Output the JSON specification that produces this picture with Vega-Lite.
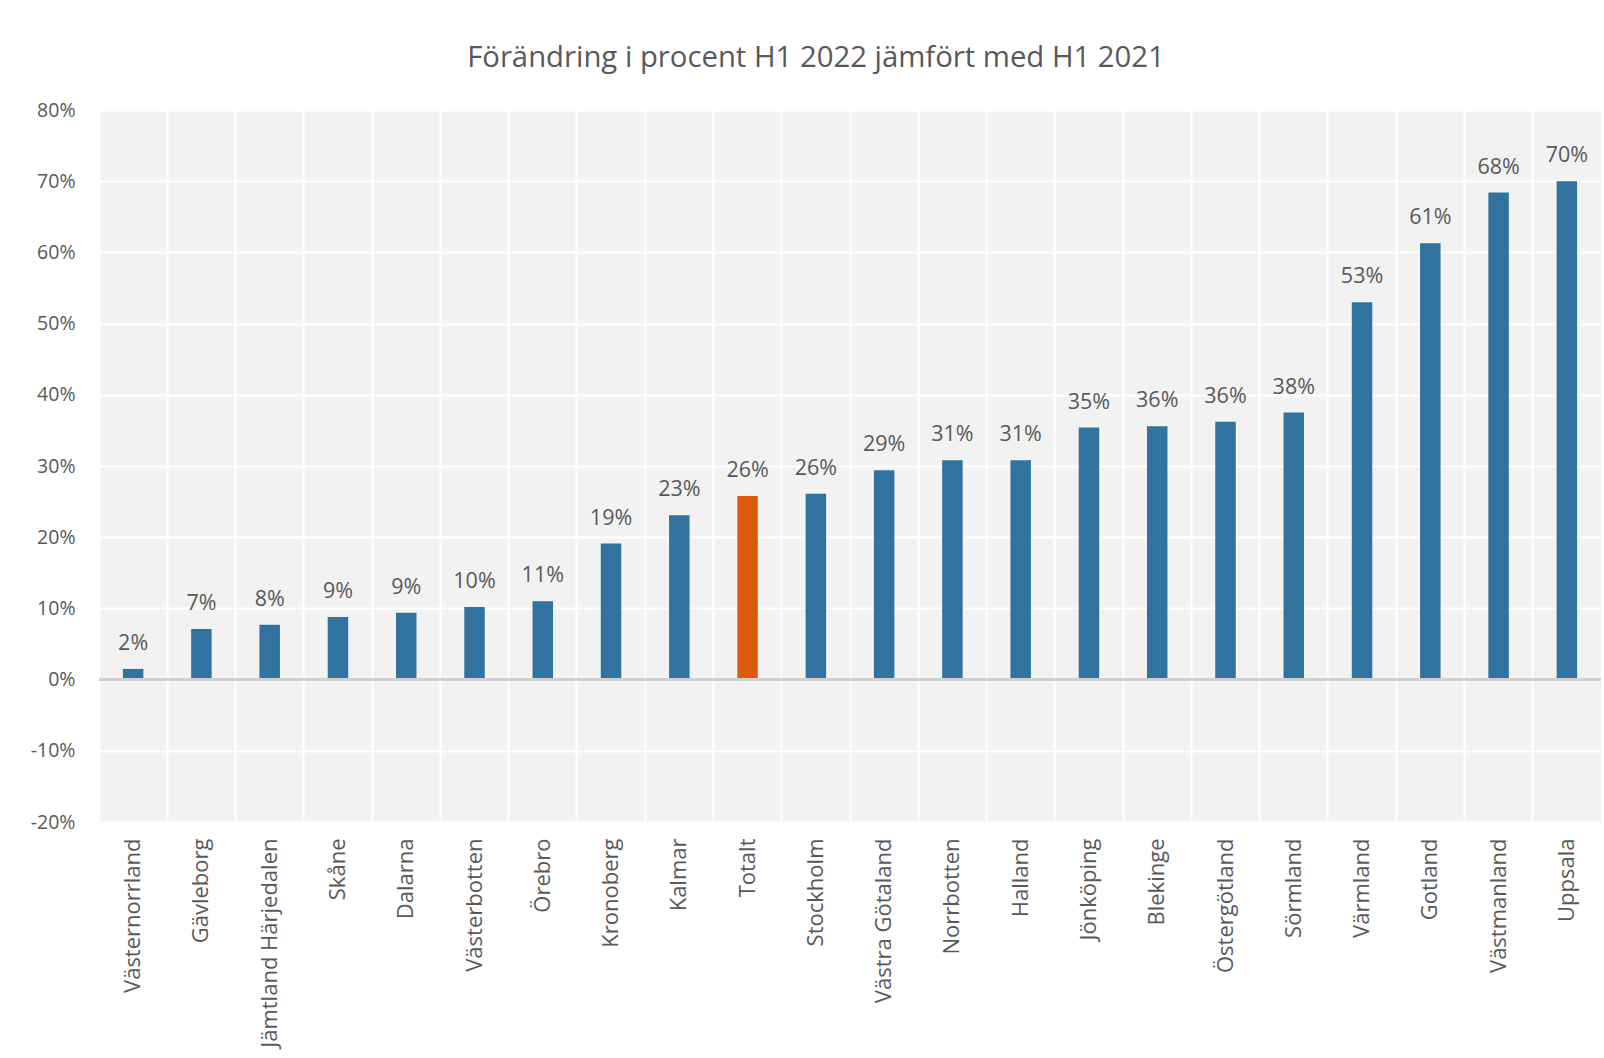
{
  "$schema": "https://vega.github.io/schema/vega-lite/v6.json",
  "autosize": {"type": "none"},
  "width": 1502,
  "height": 712,
  "padding": {"left": 99, "top": 110, "right": 3, "bottom": 236},
  "background": "white",
  "title": {
    "text": "Förändring i procent H1 2022 jämfört med H1 2021",
    "font": "Open Sans",
    "fontSize": 29.3,
    "fontWeight": "normal",
    "color": "#595959",
    "anchor": "middle",
    "dx": -34,
    "offset": 27
  },
  "config": {
    "view": {"fill": "#f2f2f2", "stroke": null},
    "font": "Open Sans"
  },
  "data": {
    "values": [
      {"region": "Västernorrland", "value": 0.015, "typ": "region"},
      {"region": "Gävleborg", "value": 0.071, "typ": "region"},
      {"region": "Jämtland Härjedalen", "value": 0.077, "typ": "region"},
      {"region": "Skåne", "value": 0.088, "typ": "region"},
      {"region": "Dalarna", "value": 0.094, "typ": "region"},
      {"region": "Västerbotten", "value": 0.102, "typ": "region"},
      {"region": "Örebro", "value": 0.110, "typ": "region"},
      {"region": "Kronoberg", "value": 0.191, "typ": "region"},
      {"region": "Kalmar", "value": 0.231, "typ": "region"},
      {"region": "Totalt", "value": 0.258, "typ": "total"},
      {"region": "Stockholm", "value": 0.261, "typ": "region"},
      {"region": "Västra Götaland", "value": 0.294, "typ": "region"},
      {"region": "Norrbotten", "value": 0.308, "typ": "region"},
      {"region": "Halland", "value": 0.308, "typ": "region"},
      {"region": "Jönköping", "value": 0.354, "typ": "region"},
      {"region": "Blekinge", "value": 0.356, "typ": "region"},
      {"region": "Östergötland", "value": 0.362, "typ": "region"},
      {"region": "Sörmland", "value": 0.375, "typ": "region"},
      {"region": "Värmland", "value": 0.530, "typ": "region"},
      {"region": "Gotland", "value": 0.613, "typ": "region"},
      {"region": "Västmanland", "value": 0.684, "typ": "region"},
      {"region": "Uppsala", "value": 0.700, "typ": "region"}
    ]
  },
  "encoding": {
    "x": {
      "field": "region",
      "type": "nominal",
      "sort": null,
      "scale": {"paddingInner": 0, "paddingOuter": 0},
      "axis": {
        "title": null,
        "labelAngle": -90,
        "labelFont": "Open Sans",
        "labelFontSize": 22,
        "labelColor": "#595959",
        "labelPadding": 16,
        "ticks": false,
        "domain": false,
        "grid": true,
        "gridColor": "white",
        "gridWidth": 2,
        "bandPosition": 0,
        "labelLimit": 400
      }
    }
  },
  "layer": [
    {
      "mark": {"type": "bar", "width": {"band": 0.3}},
      "encoding": {
        "y": {
          "field": "value",
          "type": "quantitative",
          "scale": {"domain": [-0.2, 0.8], "nice": false, "zero": false},
          "axis": {
            "title": null,
            "format": ".0%",
            "labelExpr": "replace(datum.label, '\u2212', '-')",
            "values": [-0.2, -0.1, 0, 0.1, 0.2, 0.3, 0.4, 0.5, 0.6, 0.7, 0.8],
            "labelFont": "Open Sans",
            "labelFontSize": 19.5,
            "labelColor": "#595959",
            "labelPadding": 24,
            "ticks": false,
            "domain": false,
            "grid": true,
            "gridColor": "white",
            "gridWidth": 2
          }
        },
        "y2": {"datum": 0},
        "color": {
          "field": "typ",
          "type": "nominal",
          "scale": {"domain": ["region", "total"], "range": ["#31739E", "#DD5A0C"]},
          "legend": null
        }
      }
    },
    {
      "mark": {"type": "rule", "color": "#d0d0d0", "strokeWidth": 2},
      "encoding": {"y": {"datum": 0, "type": "quantitative"}, "x": {"value": 0}, "x2": {"value": 1502}}
    },
    {
      "mark": {
        "type": "text",
        "baseline": "alphabetic",
        "dy": -19,
        "font": "Open Sans",
        "fontSize": 21.5,
        "color": "#595959"
      },
      "encoding": {
        "y": {"field": "value", "type": "quantitative"},
        "text": {"field": "value", "type": "quantitative", "format": ".0%"}
      }
    }
  ]
}
